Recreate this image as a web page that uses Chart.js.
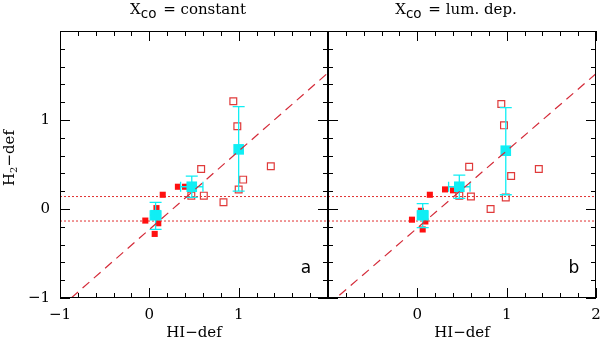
<!DOCTYPE html>
<html>
<head>
<meta charset="utf-8">
<script src="https://cdn.jsdelivr.net/npm/chart.js@4.4.0/dist/chart.umd.min.js"></script>
<style>
  html, body { margin: 0; padding: 0; background: #fff; }
  #wrap { position: relative; width: 600px; height: 339px; }
  #panel-a { position: absolute; left: 0; top: 0; width: 330px; height: 339px; }
  #panel-b { position: absolute; left: 328px; top: 0; width: 272px; height: 339px; }
</style>
</head>
<body>
<div id="wrap">
  <div id="panel-a"><canvas id="chart-a"></canvas></div>
  <div id="panel-b"><canvas id="chart-b"></canvas></div>
</div>
<script>
// axis range and tick labels (shared by both panels)
const axisMin = -1, axisMax = 2;
const tickValues = [-1, 0, 1, 2];
const xTicksA = ['\u22121', '0', '1', ''];
const xTicksB = ['', '0', '1', '2'];
const yTicksA = ['\u22121', '0', '1', ''];

// panel a: X_CO = constant
const filledAx = [-0.045, 0.08, 0.10, 0.06, 0.15, 0.32, 0.40];
const filledAy = [-0.13, 0.01, -0.16, -0.28, 0.16, 0.25, 0.25];
const openAx = [0.94, 0.985, 1.00, 1.05, 1.36, 0.58, 0.47, 0.61, 0.83];
const openAy = [1.21, 0.93, 0.22, 0.33, 0.48, 0.45, 0.15, 0.15, 0.075];
const meanAx = [0.07, 0.475, 1.00];
const meanAy = [-0.07, 0.25, 0.67];
const meanAyLo = [-0.23, 0.13, 0.20];
const meanAyHi = [0.075, 0.37, 1.15];
const meanAxLo = [0.01, 0.35, 1.00];
const meanAxHi = [0.13, 0.60, 1.00];
const fitAx = [-1, 2];
const fitAy = [-1.11, 1.53];

// panel b: X_CO = lum. dep.
const filledBx = [-0.06, 0.04, 0.09, 0.06, 0.14, 0.31, 0.40];
const filledBy = [-0.12, -0.02, -0.14, -0.23, 0.16, 0.22, 0.21];
const openBx = [0.94, 0.97, 0.99, 1.05, 1.36, 0.58, 0.47, 0.60, 0.82];
const openBy = [1.18, 0.94, 0.13, 0.37, 0.45, 0.475, 0.15, 0.14, 0.00];
const meanBx = [0.06, 0.47, 0.99];
const meanBy = [-0.07, 0.25, 0.655];
const meanByLo = [-0.21, 0.12, 0.16];
const meanByHi = [0.06, 0.38, 1.14];
const meanBxLo = [0.00, 0.35, 0.99];
const meanBxHi = [0.12, 0.59, 0.99];
const fitBx = [-1, 2];
const fitBy = [-1.08, 1.52];

// scatter band (dotted horizontal lines)
const bandX = [-1, 2];
const bandHi = 0.14;
const bandLo = -0.135;

const RED = '#ff1010';
const OPEN_RED = '#e03a3a';
const CYAN = '#10eef4';
const FIT_RED = '#d42a38';
const SERIF = '"DejaVu Serif", serif';

const pts = (xs, ys) => xs.map((x, i) => ({ x: x, y: ys[i] }));

// inward ticks, frame, error bars and all the extra text
const panelDeco = {
  id: 'panelDeco',
  afterDatasetDraw(chart, args, opts) {
    if (args.index !== 1) return; // draw bars right after the cyan means
    const { ctx, scales: { x, y } } = chart;
    ctx.save();
    ctx.strokeStyle = CYAN;
    ctx.lineWidth = 1.3;
    opts.mx.forEach((mx, i) => {
      const px = x.getPixelForValue(mx), py = y.getPixelForValue(opts.my[i]);
      const y1 = y.getPixelForValue(opts.ylo[i]), y2 = y.getPixelForValue(opts.yhi[i]);
      const x1 = x.getPixelForValue(opts.xlo[i]), x2 = x.getPixelForValue(opts.xhi[i]);
      ctx.beginPath();
      ctx.moveTo(px, y1); ctx.lineTo(px, y2);
      ctx.moveTo(px - 6, y1); ctx.lineTo(px + 6, y1);
      ctx.moveTo(px - 6, y2); ctx.lineTo(px + 6, y2);
      if (x2 - x1 > 1) {
        ctx.moveTo(x1, py); ctx.lineTo(x2, py);
        ctx.moveTo(x1, py - 5); ctx.lineTo(x1, py + 5);
        ctx.moveTo(x2, py - 5); ctx.lineTo(x2, py + 5);
      }
      ctx.stroke();
    });
    ctx.restore();
  },
  afterDraw(chart, args, opts) {
    const { ctx, chartArea: a, scales: { x, y } } = chart;
    ctx.save();
    ctx.strokeStyle = '#000';
    ctx.lineWidth = 1;
    ctx.strokeRect(a.left + 0.5, a.top + 0.5, a.right - a.left - 1, a.bottom - a.top - 1);
    ctx.beginPath();
    for (let i = 0; i <= 15; i++) {
      const v = axisMin + i * 0.2;
      const len = i % 5 === 0 ? 10 : 5;
      const px = Math.round(x.getPixelForValue(v)) + 0.5;
      const py = Math.round(y.getPixelForValue(v)) + 0.5;
      ctx.moveTo(px, a.bottom); ctx.lineTo(px, a.bottom - len);
      ctx.moveTo(px, a.top); ctx.lineTo(px, a.top + len);
      ctx.moveTo(a.left, py); ctx.lineTo(a.left + len, py);
      ctx.moveTo(a.right, py); ctx.lineTo(a.right - len, py);
    }
    ctx.stroke();

    ctx.fillStyle = '#000';
    ctx.textBaseline = 'alphabetic';
    // title  X_co = ...
    const cx = (a.left + a.right) / 2 - 7;
    const subFont = '13.5px "DejaVu Sans", sans-serif';
    ctx.font = '15px ' + SERIF;
    const wX = ctx.measureText('X').width;
    const rest = ' = ' + opts.title;
    const wRest = ctx.measureText(rest).width;
    ctx.font = subFont;
    const wSub = ctx.measureText('co').width;
    let tx = cx - (wX + wSub + wRest) / 2;
    ctx.textAlign = 'left';
    ctx.font = '15px ' + SERIF;
    ctx.fillText('X', tx, 14);
    ctx.font = subFont;
    ctx.fillText('co', tx + wX, 18);
    ctx.font = '15px ' + SERIF;
    ctx.fillText(rest, tx + wX + wSub + 2, 14);

    // x axis title
    ctx.textAlign = 'center';
    ctx.fillText('HI\u2212def', (a.left + a.right) / 2, 337);

    // panel letter
    ctx.font = '17px "DejaVu Sans", sans-serif';
    ctx.fillText(opts.letter, a.right - 22, 273);

    // y axis title, rotated
    if (opts.yTitle) {
      ctx.translate(14, 158);
      ctx.rotate(-Math.PI / 2);
      ctx.font = '15px ' + SERIF;
      const wH = ctx.measureText('H').width;
      const wD = ctx.measureText('\u2212def').width;
      ctx.font = '10px ' + SERIF;
      const w2 = ctx.measureText('2').width;
      let sx = -(wH + w2 + wD) / 2;
      ctx.textAlign = 'left';
      ctx.font = '15px ' + SERIF;
      ctx.fillText('H', sx, 0);
      ctx.font = '10px ' + SERIF;
      ctx.fillText('2', sx + wH, 3);
      ctx.font = '15px ' + SERIF;
      ctx.fillText('\u2212def', sx + wH + w2, 0);
    }
    ctx.restore();
  }
};

function makeDatasets(fx, fy, ox, oy, mx, my, lx, ly) {
  return [
    { type: 'line', data: pts(lx, ly), borderColor: FIT_RED, borderWidth: 1.2,
      borderDash: [9, 6], pointRadius: 0, fill: false, order: 0 },
    { data: pts(mx, my), pointStyle: 'rect', pointRadius: 7.5,
      backgroundColor: CYAN, borderColor: CYAN, borderWidth: 0, order: 1 },
    { data: pts(ox, oy), pointStyle: 'rect', pointRadius: 4.8,
      backgroundColor: 'rgba(0,0,0,0)', borderColor: OPEN_RED, borderWidth: 1.2, order: 2 },
    { data: pts(fx, fy), pointStyle: 'rect', pointRadius: 4.3,
      backgroundColor: RED, borderColor: RED, borderWidth: 0, order: 3 },
    { type: 'line', data: pts(bandX, [bandHi, bandHi]), borderColor: '#e03030', borderWidth: 1,
      borderDash: [2, 2], pointRadius: 0, fill: false, order: 4 },
    { type: 'line', data: pts(bandX, [bandLo, bandLo]), borderColor: '#e03030', borderWidth: 1,
      borderDash: [2, 2], pointRadius: 0, fill: false, order: 5 }
  ];
}

function makeChart(id, datasets, xLabels, yLabels, yWidth, pad, deco) {
  return new Chart(document.getElementById(id), {
    type: 'scatter',
    data: { datasets: datasets },
    plugins: [panelDeco],
    options: {
      responsive: true,
      maintainAspectRatio: false,
      animation: false,
      events: [],
      layout: { padding: pad, autoPadding: false },
      plugins: { legend: { display: false }, tooltip: { enabled: false }, panelDeco: deco },
      scales: {
        x: {
          type: 'linear', min: axisMin, max: axisMax,
          afterBuildTicks: s => { s.ticks = tickValues.map(v => ({ value: v })); },
          afterFit: s => { s.height = 41; s.paddingLeft = 0; s.paddingRight = 0; },
          grid: { display: false, drawTicks: false },
          border: { display: false },
          ticks: {
            padding: 8, color: '#000', maxRotation: 0, autoSkip: false,
            font: { family: SERIF, size: 15 },
            callback: (v) => xLabels[tickValues.indexOf(v)]
          }
        },
        y: {
          type: 'linear', min: axisMin, max: axisMax,
          afterBuildTicks: s => { s.ticks = tickValues.map(v => ({ value: v })); },
          afterFit: s => { s.width = yWidth; s.paddingTop = 0; s.paddingBottom = 0; },
          grid: { display: false, drawTicks: false },
          border: { display: false },
          ticks: {
            display: yLabels !== null, padding: 10, color: '#000', autoSkip: false,
            font: { family: SERIF, size: 15 },
            callback: (v) => yLabels ? yLabels[tickValues.indexOf(v)] : ''
          }
        }
      }
    }
  });
}

makeChart('chart-a',
  makeDatasets(filledAx, filledAy, openAx, openAy, meanAx, meanAy, fitAx, fitAy),
  xTicksA, yTicksA, 60, { top: 31, right: 2, left: 0, bottom: 0 },
  { title: 'constant', letter: 'a', yTitle: true,
    mx: meanAx, my: meanAy, ylo: meanAyLo, yhi: meanAyHi, xlo: meanAxLo, xhi: meanAxHi });

makeChart('chart-b',
  makeDatasets(filledBx, filledBy, openBx, openBy, meanBx, meanBy, fitBx, fitBy),
  xTicksB, null, 0, { top: 31, right: 4, left: 0, bottom: 0 },
  { title: 'lum. dep.', letter: 'b', yTitle: false,
    mx: meanBx, my: meanBy, ylo: meanByLo, yhi: meanByHi, xlo: meanBxLo, xhi: meanBxHi });
</script>
</body>
</html>
